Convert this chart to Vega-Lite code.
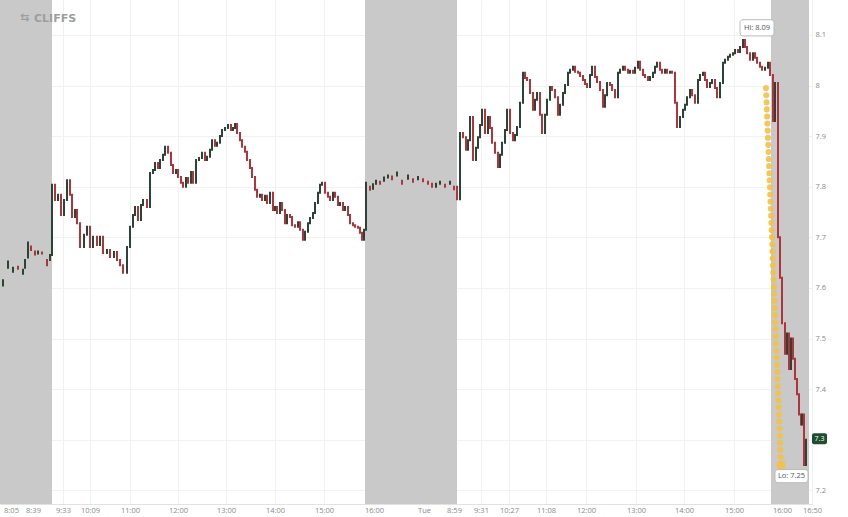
{
  "$schema": "https://vega.github.io/schema/vega-lite/v6.json",
  "width": 812,
  "height": 504,
  "autosize": "none",
  "padding": {"left": 0, "top": 0, "right": 36, "bottom": 13},
  "background": "white",
  "config": {"view": {"stroke": null}, "font": "Open Sans"},
  "datasets": {
    "bands": [{"s": 0, "e": 52}, {"s": 365, "e": 457}, {"s": 771, "e": 809}],
    "candles": [
      {"t": 3, "o": 7.605, "c": 7.615}, {"t": 8, "o": 7.64, "c": 7.652}, {"t": 13, "o": 7.632, "c": 7.64},
      {"t": 18, "o": 7.642, "c": 7.638}, {"t": 23, "o": 7.628, "c": 7.636}, {"t": 25, "o": 7.64, "c": 7.655},
      {"t": 28, "o": 7.66, "c": 7.69}, {"t": 31, "o": 7.682, "c": 7.675}, {"t": 35, "o": 7.672, "c": 7.666},
      {"t": 38, "o": 7.668, "c": 7.672}, {"t": 42, "o": 7.67, "c": 7.668}, {"t": 47, "o": 7.655, "c": 7.645},
      {"t": 50, "o": 7.655, "c": 7.665},
      {"t": 52, "o": 7.665, "c": 7.804}, {"t": 55, "o": 7.804, "c": 7.774}, {"t": 58, "o": 7.774, "c": 7.784},
      {"t": 61, "o": 7.784, "c": 7.744}, {"t": 64, "o": 7.744, "c": 7.774}, {"t": 67, "o": 7.774, "c": 7.813},
      {"t": 70, "o": 7.813, "c": 7.784}, {"t": 72, "o": 7.784, "c": 7.74}, {"t": 75, "o": 7.74, "c": 7.754},
      {"t": 77, "o": 7.754, "c": 7.728}, {"t": 80, "o": 7.728, "c": 7.681}, {"t": 84, "o": 7.681, "c": 7.705},
      {"t": 87, "o": 7.705, "c": 7.721}, {"t": 90, "o": 7.721, "c": 7.681}, {"t": 93, "o": 7.681, "c": 7.701},
      {"t": 97, "o": 7.701, "c": 7.685}, {"t": 100, "o": 7.685, "c": 7.701}, {"t": 103, "o": 7.701, "c": 7.669},
      {"t": 107, "o": 7.669, "c": 7.675}, {"t": 110, "o": 7.675, "c": 7.661}, {"t": 114, "o": 7.661, "c": 7.671},
      {"t": 117, "o": 7.671, "c": 7.655}, {"t": 120, "o": 7.655, "c": 7.645}, {"t": 123, "o": 7.645, "c": 7.63},
      {"t": 127, "o": 7.63, "c": 7.681}, {"t": 130, "o": 7.681, "c": 7.721}, {"t": 133, "o": 7.721, "c": 7.744},
      {"t": 135, "o": 7.744, "c": 7.76}, {"t": 138, "o": 7.76, "c": 7.734}, {"t": 141, "o": 7.734, "c": 7.764},
      {"t": 143, "o": 7.764, "c": 7.774}, {"t": 147, "o": 7.774, "c": 7.76}, {"t": 150, "o": 7.76, "c": 7.827},
      {"t": 153, "o": 7.827, "c": 7.833}, {"t": 155, "o": 7.833, "c": 7.847}, {"t": 158, "o": 7.847, "c": 7.837},
      {"t": 160, "o": 7.837, "c": 7.853}, {"t": 163, "o": 7.853, "c": 7.863}, {"t": 165, "o": 7.863, "c": 7.879},
      {"t": 168, "o": 7.879, "c": 7.867}, {"t": 171, "o": 7.867, "c": 7.843}, {"t": 173, "o": 7.843, "c": 7.827},
      {"t": 176, "o": 7.827, "c": 7.833}, {"t": 178, "o": 7.833, "c": 7.819}, {"t": 181, "o": 7.819, "c": 7.808},
      {"t": 183, "o": 7.808, "c": 7.8}, {"t": 186, "o": 7.8, "c": 7.817}, {"t": 188, "o": 7.817, "c": 7.808},
      {"t": 191, "o": 7.808, "c": 7.829}, {"t": 193, "o": 7.829, "c": 7.808}, {"t": 196, "o": 7.808, "c": 7.853},
      {"t": 199, "o": 7.853, "c": 7.857}, {"t": 202, "o": 7.857, "c": 7.867}, {"t": 205, "o": 7.867, "c": 7.853},
      {"t": 207, "o": 7.853, "c": 7.859}, {"t": 210, "o": 7.859, "c": 7.873}, {"t": 212, "o": 7.873, "c": 7.892},
      {"t": 215, "o": 7.892, "c": 7.881}, {"t": 217, "o": 7.881, "c": 7.887}, {"t": 220, "o": 7.887, "c": 7.9},
      {"t": 222, "o": 7.9, "c": 7.912}, {"t": 225, "o": 7.912, "c": 7.916}, {"t": 228, "o": 7.916, "c": 7.922},
      {"t": 231, "o": 7.922, "c": 7.912}, {"t": 233, "o": 7.912, "c": 7.916}, {"t": 235, "o": 7.916, "c": 7.924},
      {"t": 237, "o": 7.924, "c": 7.906}, {"t": 240, "o": 7.906, "c": 7.892}, {"t": 242, "o": 7.892, "c": 7.879},
      {"t": 245, "o": 7.879, "c": 7.869}, {"t": 247, "o": 7.869, "c": 7.853}, {"t": 250, "o": 7.853, "c": 7.837},
      {"t": 252, "o": 7.837, "c": 7.819}, {"t": 255, "o": 7.819, "c": 7.794}, {"t": 257, "o": 7.794, "c": 7.78},
      {"t": 260, "o": 7.78, "c": 7.784}, {"t": 262, "o": 7.784, "c": 7.774}, {"t": 265, "o": 7.774, "c": 7.782},
      {"t": 267, "o": 7.782, "c": 7.768}, {"t": 270, "o": 7.768, "c": 7.788}, {"t": 273, "o": 7.788, "c": 7.754},
      {"t": 275, "o": 7.754, "c": 7.76}, {"t": 277, "o": 7.76, "c": 7.748}, {"t": 280, "o": 7.748, "c": 7.768},
      {"t": 282, "o": 7.768, "c": 7.754}, {"t": 285, "o": 7.754, "c": 7.728}, {"t": 287, "o": 7.728, "c": 7.744},
      {"t": 290, "o": 7.744, "c": 7.74}, {"t": 292, "o": 7.74, "c": 7.724}, {"t": 295, "o": 7.724, "c": 7.721},
      {"t": 298, "o": 7.721, "c": 7.73}, {"t": 300, "o": 7.73, "c": 7.715}, {"t": 303, "o": 7.715, "c": 7.695},
      {"t": 305, "o": 7.695, "c": 7.711}, {"t": 308, "o": 7.711, "c": 7.728}, {"t": 310, "o": 7.728, "c": 7.738},
      {"t": 313, "o": 7.738, "c": 7.748}, {"t": 315, "o": 7.748, "c": 7.768}, {"t": 318, "o": 7.768, "c": 7.788},
      {"t": 320, "o": 7.788, "c": 7.804}, {"t": 322, "o": 7.804, "c": 7.808}, {"t": 325, "o": 7.808, "c": 7.788},
      {"t": 328, "o": 7.788, "c": 7.78}, {"t": 330, "o": 7.78, "c": 7.774}, {"t": 333, "o": 7.774, "c": 7.788},
      {"t": 335, "o": 7.788, "c": 7.78}, {"t": 338, "o": 7.78, "c": 7.764}, {"t": 340, "o": 7.764, "c": 7.768},
      {"t": 343, "o": 7.768, "c": 7.754}, {"t": 345, "o": 7.754, "c": 7.76}, {"t": 348, "o": 7.76, "c": 7.744},
      {"t": 350, "o": 7.744, "c": 7.728}, {"t": 353, "o": 7.728, "c": 7.724}, {"t": 355, "o": 7.724, "c": 7.721},
      {"t": 358, "o": 7.721, "c": 7.719}, {"t": 360, "o": 7.719, "c": 7.709}, {"t": 362, "o": 7.709, "c": 7.695},
      {"t": 364, "o": 7.695, "c": 7.715},
      {"t": 366, "o": 7.715, "c": 7.808}, {"t": 370, "o": 7.8, "c": 7.794}, {"t": 373, "o": 7.796, "c": 7.805},
      {"t": 376, "o": 7.806, "c": 7.812}, {"t": 380, "o": 7.81, "c": 7.806}, {"t": 384, "o": 7.812, "c": 7.818},
      {"t": 388, "o": 7.818, "c": 7.822}, {"t": 392, "o": 7.82, "c": 7.815}, {"t": 397, "o": 7.822, "c": 7.828},
      {"t": 402, "o": 7.812, "c": 7.806}, {"t": 408, "o": 7.816, "c": 7.822}, {"t": 413, "o": 7.815, "c": 7.81},
      {"t": 418, "o": 7.815, "c": 7.819}, {"t": 423, "o": 7.815, "c": 7.811}, {"t": 428, "o": 7.81, "c": 7.806},
      {"t": 432, "o": 7.806, "c": 7.8}, {"t": 436, "o": 7.8, "c": 7.806}, {"t": 440, "o": 7.806, "c": 7.81},
      {"t": 445, "o": 7.804, "c": 7.8}, {"t": 450, "o": 7.806, "c": 7.81}, {"t": 454, "o": 7.8, "c": 7.795},
      {"t": 457, "o": 7.8, "c": 7.775},
      {"t": 460, "o": 7.775, "c": 7.906}, {"t": 463, "o": 7.906, "c": 7.898}, {"t": 466, "o": 7.898, "c": 7.873},
      {"t": 468, "o": 7.873, "c": 7.892}, {"t": 470, "o": 7.892, "c": 7.938}, {"t": 473, "o": 7.938, "c": 7.853},
      {"t": 476, "o": 7.853, "c": 7.877}, {"t": 478, "o": 7.877, "c": 7.898}, {"t": 480, "o": 7.898, "c": 7.922},
      {"t": 482, "o": 7.922, "c": 7.952}, {"t": 485, "o": 7.952, "c": 7.906}, {"t": 488, "o": 7.906, "c": 7.938},
      {"t": 490, "o": 7.938, "c": 7.916}, {"t": 492, "o": 7.916, "c": 7.887}, {"t": 495, "o": 7.887, "c": 7.867},
      {"t": 498, "o": 7.867, "c": 7.839}, {"t": 500, "o": 7.839, "c": 7.863}, {"t": 502, "o": 7.863, "c": 7.887},
      {"t": 505, "o": 7.887, "c": 7.912}, {"t": 507, "o": 7.912, "c": 7.952}, {"t": 510, "o": 7.952, "c": 7.906},
      {"t": 513, "o": 7.906, "c": 7.892}, {"t": 515, "o": 7.892, "c": 7.902}, {"t": 517, "o": 7.902, "c": 7.918},
      {"t": 520, "o": 7.918, "c": 7.966}, {"t": 523, "o": 7.966, "c": 8.025}, {"t": 525, "o": 8.025, "c": 8.015},
      {"t": 527, "o": 8.015, "c": 8.011}, {"t": 530, "o": 8.011, "c": 7.985}, {"t": 533, "o": 7.985, "c": 7.952},
      {"t": 535, "o": 7.952, "c": 7.972}, {"t": 537, "o": 7.972, "c": 7.985}, {"t": 540, "o": 7.985, "c": 7.942},
      {"t": 542, "o": 7.942, "c": 7.906}, {"t": 545, "o": 7.906, "c": 7.942}, {"t": 547, "o": 7.942, "c": 7.972},
      {"t": 550, "o": 7.972, "c": 7.997}, {"t": 552, "o": 7.997, "c": 7.991}, {"t": 555, "o": 7.991, "c": 7.977},
      {"t": 558, "o": 7.977, "c": 7.942}, {"t": 560, "o": 7.942, "c": 7.962}, {"t": 563, "o": 7.962, "c": 7.985},
      {"t": 565, "o": 7.985, "c": 8.001}, {"t": 568, "o": 8.001, "c": 8.025}, {"t": 570, "o": 8.025, "c": 8.031},
      {"t": 573, "o": 8.031, "c": 8.037}, {"t": 575, "o": 8.037, "c": 8.027}, {"t": 578, "o": 8.027, "c": 8.025},
      {"t": 580, "o": 8.025, "c": 8.019}, {"t": 583, "o": 8.019, "c": 8.011}, {"t": 585, "o": 8.011, "c": 8.003},
      {"t": 587, "o": 8.003, "c": 7.997}, {"t": 590, "o": 7.997, "c": 8.021}, {"t": 592, "o": 8.021, "c": 8.037},
      {"t": 595, "o": 8.037, "c": 8.017}, {"t": 597, "o": 8.017, "c": 8.007}, {"t": 600, "o": 8.007, "c": 7.991},
      {"t": 603, "o": 7.991, "c": 7.958}, {"t": 605, "o": 7.958, "c": 7.981}, {"t": 607, "o": 7.981, "c": 8.005},
      {"t": 610, "o": 8.005, "c": 8.001}, {"t": 612, "o": 8.001, "c": 7.991}, {"t": 615, "o": 7.991, "c": 7.977},
      {"t": 618, "o": 7.977, "c": 8.025}, {"t": 620, "o": 8.025, "c": 8.031}, {"t": 623, "o": 8.031, "c": 8.037},
      {"t": 625, "o": 8.037, "c": 8.031}, {"t": 628, "o": 8.031, "c": 8.025}, {"t": 630, "o": 8.025, "c": 8.029},
      {"t": 633, "o": 8.029, "c": 8.025}, {"t": 635, "o": 8.025, "c": 8.035}, {"t": 638, "o": 8.035, "c": 8.047},
      {"t": 640, "o": 8.047, "c": 8.031}, {"t": 643, "o": 8.031, "c": 8.021}, {"t": 645, "o": 8.021, "c": 8.017},
      {"t": 648, "o": 8.017, "c": 8.011}, {"t": 650, "o": 8.011, "c": 8.017}, {"t": 653, "o": 8.017, "c": 8.025},
      {"t": 655, "o": 8.025, "c": 8.037}, {"t": 657, "o": 8.037, "c": 8.045}, {"t": 660, "o": 8.045, "c": 8.031},
      {"t": 662, "o": 8.031, "c": 8.025}, {"t": 665, "o": 8.025, "c": 8.031}, {"t": 667, "o": 8.031, "c": 8.025},
      {"t": 670, "o": 8.025, "c": 8.027}, {"t": 672, "o": 8.027, "c": 8.025}, {"t": 675, "o": 8.025, "c": 7.966},
      {"t": 677, "o": 7.966, "c": 7.918}, {"t": 680, "o": 7.918, "c": 7.938}, {"t": 683, "o": 7.938, "c": 7.952},
      {"t": 685, "o": 7.952, "c": 7.962}, {"t": 687, "o": 7.962, "c": 7.977}, {"t": 690, "o": 7.977, "c": 7.991},
      {"t": 692, "o": 7.991, "c": 7.981}, {"t": 695, "o": 7.981, "c": 7.966}, {"t": 698, "o": 7.966, "c": 8.011},
      {"t": 700, "o": 8.011, "c": 8.021}, {"t": 703, "o": 8.021, "c": 8.025}, {"t": 705, "o": 8.025, "c": 8.011},
      {"t": 707, "o": 8.011, "c": 7.997}, {"t": 710, "o": 7.997, "c": 8.005}, {"t": 712, "o": 8.005, "c": 8.011},
      {"t": 715, "o": 8.011, "c": 7.995}, {"t": 717, "o": 7.995, "c": 7.977}, {"t": 720, "o": 7.977, "c": 8.005},
      {"t": 723, "o": 8.005, "c": 8.045}, {"t": 725, "o": 8.045, "c": 8.051}, {"t": 728, "o": 8.051, "c": 8.057},
      {"t": 730, "o": 8.057, "c": 8.061}, {"t": 733, "o": 8.061, "c": 8.064}, {"t": 735, "o": 8.064, "c": 8.07},
      {"t": 738, "o": 8.07, "c": 8.066}, {"t": 740, "o": 8.066, "c": 8.076}, {"t": 743, "o": 8.076, "c": 8.09},
      {"t": 745, "o": 8.09, "c": 8.076}, {"t": 747, "o": 8.076, "c": 8.064}, {"t": 750, "o": 8.064, "c": 8.051},
      {"t": 753, "o": 8.051, "c": 8.064}, {"t": 755, "o": 8.064, "c": 8.055}, {"t": 757, "o": 8.055, "c": 8.045},
      {"t": 760, "o": 8.045, "c": 8.037}, {"t": 762, "o": 8.037, "c": 8.031}, {"t": 765, "o": 8.031, "c": 8.035},
      {"t": 768, "o": 8.035, "c": 8.045}, {"t": 770, "o": 8.045, "c": 8.021},
      {"t": 773, "o": 8.021, "c": 7.93}, {"t": 775, "o": 7.93, "c": 8.005}, {"t": 778, "o": 8.005, "c": 7.7},
      {"t": 780, "o": 7.7, "c": 7.62}, {"t": 782, "o": 7.62, "c": 7.53}, {"t": 785, "o": 7.53, "c": 7.47},
      {"t": 787, "o": 7.47, "c": 7.51}, {"t": 789, "o": 7.51, "c": 7.44}, {"t": 791, "o": 7.44, "c": 7.5},
      {"t": 793, "o": 7.5, "c": 7.46}, {"t": 795, "o": 7.46, "c": 7.42}, {"t": 797, "o": 7.42, "c": 7.39},
      {"t": 799, "o": 7.39, "c": 7.35}, {"t": 801, "o": 7.35, "c": 7.33}, {"t": 802, "o": 7.33, "c": 7.35},
      {"t": 804, "o": 7.35, "c": 7.25}, {"t": 806, "o": 7.25, "c": 7.3}
    ],
    "drop": [{"t": 766, "v": 7.995}, {"t": 781, "v": 7.25}],
    "boxes": [
      {"t": 740, "t2": 774, "v": 8.13, "v2": 8.098, "cx": 757, "cv": 8.114, "label": "Hi: 8.09"},
      {"t": 775, "t2": 808, "v": 7.241, "v2": 7.215, "cx": 791.5, "cv": 7.228, "label": "Lo: 7.25"}
    ],
    "badge": [{"t": 812, "t2": 827, "v": 7.313, "v2": 7.291, "cx": 819.5, "cv": 7.302, "label": "7.3"}],
    "logo": [{"t": 20, "v": 8.133, "label": "⇆"}, {"t": 34, "v": 8.132, "label": "CLIFFS"}]
  },
  "layer": [
    {
      "data": {"name": "bands"},
      "mark": {"type": "rect", "color": "#c9c9c9"},
      "encoding": {
        "x": {
          "field": "s", "type": "quantitative", "title": null,
          "scale": {"domain": [0, 812], "nice": false, "zero": false},
          "axis": {
            "orient": "bottom",
            "values": [11, 33, 63, 90, 130, 178, 226, 275, 324, 374, 424, 454, 481, 509, 546, 586, 636, 684, 734, 782, 812],
            "labelExpr": "['8:05','8:39','9:33','10:09','11:00','12:00','13:00','14:00','15:00','16:00','Tue','8:59','9:31','10:27','11:08','12:00','13:00','14:00','15:00','16:00','16:50'][indexof([11,33,63,90,130,178,226,275,324,374,424,454,481,509,546,586,636,684,734,782,812], datum.value)]",
            "labelFontSize": 7.5, "labelColor": "#8a8a8a", "labelPadding": 2,
            "labelOverlap": false, "labelFlush": false, "labelBound": false,
            "ticks": false, "domainColor": "#e2e2e2",
            "grid": true, "gridColor": "#f1f1f1"
          }
        },
        "x2": {"field": "e"}
      }
    },
    {
      "data": {"name": "candles"},
      "mark": {"type": "rule", "strokeWidth": 2, "strokeCap": "square"},
      "encoding": {
        "x": {"field": "t", "type": "quantitative", "title": null},
        "y": {
          "field": "o", "type": "quantitative", "title": null,
          "scale": {"domain": [7.173, 8.169], "nice": false, "zero": false},
          "axis": {
            "orient": "right",
            "values": [7.2, 7.3, 7.4, 7.5, 7.6, 7.7, 7.8, 7.9, 8, 8.1],
            "format": "~g",
            "labelFontSize": 7.5, "labelColor": "#8a8a8a", "labelPadding": 3,
            "ticks": false, "domain": false,
            "grid": true, "gridColor": "#f1f1f1"
          }
        },
        "y2": {"field": "c"},
        "color": {
          "condition": {"test": "datum.c >= datum.o", "value": "#2c4435"},
          "value": "#b2343b"
        }
      }
    },
    {
      "data": {"name": "drop"},
      "mark": {"type": "line", "color": "#f1c24a", "opacity": 0.9, "strokeWidth": 6, "strokeCap": "round", "strokeDash": [0.1, 7]},
      "encoding": {
        "x": {"field": "t", "type": "quantitative"},
        "y": {"field": "v", "type": "quantitative"}
      }
    },
    {
      "data": {"name": "drop"},
      "transform": [{"filter": "datum.v < 7.3"}],
      "mark": {"type": "point", "filled": true, "color": "#f1c24a", "opacity": 1, "size": 80},
      "encoding": {
        "x": {"field": "t", "type": "quantitative"},
        "y": {"field": "v", "type": "quantitative"}
      }
    },
    {
      "data": {"name": "boxes"},
      "mark": {"type": "rect", "fill": "white", "stroke": "#b9b9b9", "strokeWidth": 1, "cornerRadius": 3},
      "encoding": {
        "x": {"field": "t", "type": "quantitative"},
        "x2": {"field": "t2"},
        "y": {"field": "v", "type": "quantitative"},
        "y2": {"field": "v2"}
      }
    },
    {
      "data": {"name": "boxes"},
      "mark": {"type": "text", "fontSize": 7.5, "color": "#555555", "align": "center", "baseline": "middle"},
      "encoding": {
        "x": {"field": "cx", "type": "quantitative"},
        "y": {"field": "cv", "type": "quantitative"},
        "text": {"field": "label"}
      }
    },
    {
      "data": {"name": "badge"},
      "mark": {"type": "rect", "fill": "#1d4f2e", "cornerRadius": 2},
      "encoding": {
        "x": {"field": "t", "type": "quantitative"},
        "x2": {"field": "t2"},
        "y": {"field": "v", "type": "quantitative"},
        "y2": {"field": "v2"}
      }
    },
    {
      "data": {"name": "badge"},
      "mark": {"type": "text", "fontSize": 7, "color": "white", "align": "center", "baseline": "middle"},
      "encoding": {
        "x": {"field": "cx", "type": "quantitative"},
        "y": {"field": "cv", "type": "quantitative"},
        "text": {"field": "label"}
      }
    },
    {
      "data": {"name": "logo"},
      "mark": {"type": "text", "font": "DejaVu Sans", "fontSize": 11, "fontWeight": "bold", "color": "#9d9d9d", "align": "left", "baseline": "middle"},
      "encoding": {
        "x": {"field": "t", "type": "quantitative"},
        "y": {"field": "v", "type": "quantitative"},
        "text": {"field": "label"}
      }
    }
  ]
}
